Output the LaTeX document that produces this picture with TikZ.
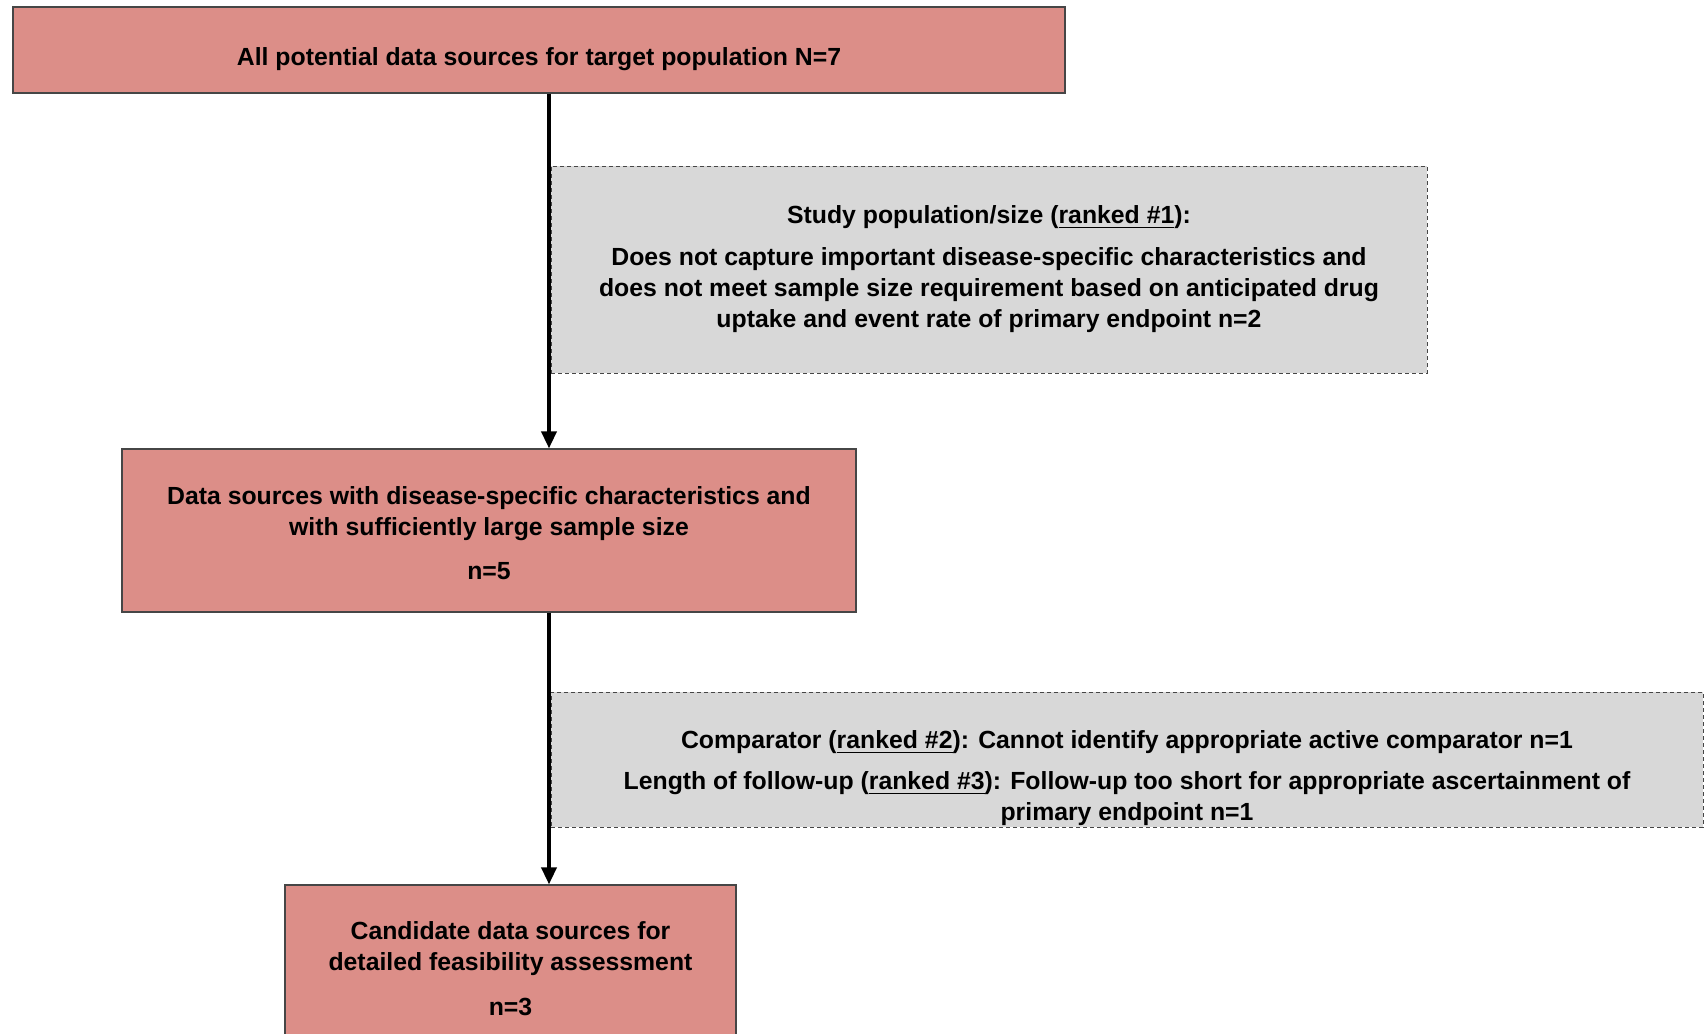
\documentclass[tikz,border=0pt]{standalone}
\usepackage{fontspec}
\setmainfont{Liberation Sans}
\usetikzlibrary{arrows.meta}
\definecolor{boxred}{RGB}{220,142,136}
\definecolor{boxgrey}{RGB}{216,216,216}
\definecolor{edgegrey}{RGB}{70,70,70}
\begin{document}
\begin{tikzpicture}[x=0.5pt,y=-0.5pt,
    keep/.style={draw=edgegrey, fill=boxred, line width=0.6pt, inner sep=0pt, align=center,
      font=\bfseries\fontsize{12.4}{15.5}\selectfont},
    drop/.style={draw=edgegrey, fill=boxgrey, dash pattern=on 2pt off 1.5pt, line width=0.5pt,
      inner sep=0pt, align=center, font=\bfseries\fontsize{12.4}{15.5}\selectfont},
    flow/.style={line width=1.8pt, -{Triangle[width=7.5pt,length=8.5pt]}}]
    \useasboundingbox (0,0) rectangle (1704,1034);
    \fill[white] (0,0) rectangle (1704,1034);
    % main path
    \node[keep, minimum width=526pt, minimum height=43pt] (all) at (539,50)
      {\rule{0pt}{18pt}All potential data sources for target population N=7};
    \node[keep, minimum width=367pt, minimum height=81.5pt] (eligible) at (489,530.5)
      {\rule{0pt}{11.5pt}Data sources with disease-specific characteristics and\\
       with sufficiently large sample size\\[6.5pt] n=5};
    \node[keep, minimum width=225.5pt, minimum height=84pt] (candidate) at (510.5,969)
      {Candidate data sources for\\ detailed feasibility assessment\\[7pt] n=3};
    % exclusions
    \node[drop, minimum width=438pt, minimum height=103.5pt] (excl1) at (989,269.5)
      {Study population/size (\underline{ranked \#1}):\\[5.5pt]
       Does not capture important disease-specific characteristics and\\
       does not meet sample size requirement based on anticipated drug\\
       uptake and event rate of primary endpoint n=2};
    \node[drop, minimum width=576pt, minimum height=67.5pt] (excl2) at (1127,759.5)
      {\rule{0pt}{28pt}Comparator (\underline{ranked \#2}): Cannot identify appropriate active comparator n=1\\[5pt]
       Length of follow-up (\underline{ranked \#3}): Follow-up too short for appropriate ascertainment of\\
       primary endpoint n=1};
    % arrows
    \coordinate (spine) at (549,0);
    \draw[flow] (all.south -| spine) -- (eligible.north -| spine);
    \draw[flow] (eligible.south -| spine) -- (candidate.north -| spine);
\end{tikzpicture}
\end{document}
